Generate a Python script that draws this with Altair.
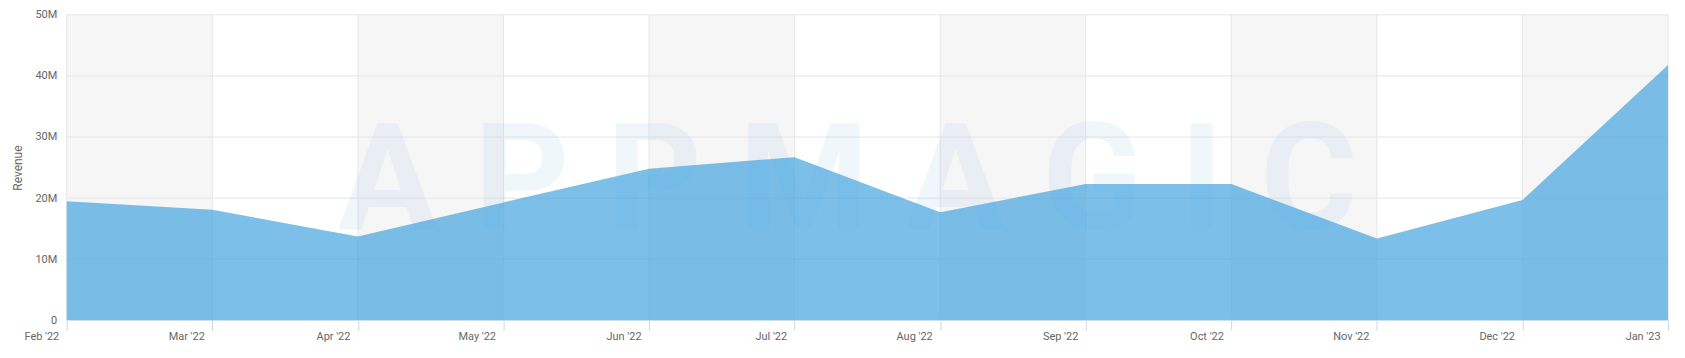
import json
import altair as alt
import pandas as pd

# ---- data ----
months = ["Feb '22", "Mar '22", "Apr '22", "May '22", "Jun '22", "Jul '22",
          "Aug '22", "Sep '22", "Oct '22", "Nov '22", "Dec '22", "Jan '23"]
revenue_m = [19.5, 18.1, 13.7, 19.3, 24.8, 26.7, 17.7, 22.3, 22.3, 13.4, 19.7, 41.8]
y_ticks = [0, 10, 20, 30, 40, 50]
watermark = "A P P M A G I C"

W, H = 1609, 307
idx = list(range(len(months)))
df = pd.DataFrame({"i": idx, "month": months, "revenue": revenue_m})
bands = pd.DataFrame({"start": idx[0:-1:2], "end": idx[1::2]})
ygrid = pd.DataFrame({"v": y_ticks})
wm = pd.DataFrame({"t": [watermark]})

FONT = "Roboto"
xs = alt.Scale(domain=[idx[0], idx[-1]], nice=False, zero=False)
ys = alt.Scale(domain=[y_ticks[0], y_ticks[-1]], nice=False)

xaxis = alt.Axis(values=idx, labelExpr=json.dumps(months) + "[datum.value]",
                 grid=False, domain=False, tickColor="#ccd6eb", tickSize=10,
                 labelAlign="right", labelOffset=-8, labelPadding=0,
                 labelColor="#666666", labelFontSize=11, labelFont=FONT,
                 labelFlush=False, labelOverlap=False, title=None)
yaxis = alt.Axis(values=y_ticks,
                 labelExpr="datum.value == 0 ? '0' : datum.value + 'M'",
                 grid=False, domain=False, ticks=False, labelPadding=10,
                 labelColor="#666666", labelFontSize=11, labelFont=FONT,
                 title="Revenue", titleFont=FONT, titleFontSize=12,
                 titleFontWeight="normal", titleColor="#666666", titlePadding=10)

band_layer = alt.Chart(bands).mark_rect(color="#f6f6f6").encode(
    x=alt.X("start:Q", scale=xs, axis=xaxis),
    x2="end:Q",
)

vgrid = alt.Chart(df).mark_rule(color="#e6e6e6", strokeWidth=1).encode(
    x=alt.X("i:Q", scale=xs, axis=xaxis)
)
hgrid = alt.Chart(ygrid).mark_rule(color="#e6e6e6", strokeWidth=1).encode(
    y=alt.Y("v:Q", scale=ys, axis=yaxis)
)

wm_layer = alt.Chart(wm).mark_text(
    font=FONT, fontWeight="bold", fontSize=149, color="#4a9ad8", opacity=0.075,
    align="center", baseline="alphabetic", dx=-20
).encode(text="t:N", x=alt.value(W / 2), y=alt.value(215))

area = alt.Chart(df).mark_area(color="#44a5e1", opacity=0.7).encode(
    x=alt.X("i:Q", scale=xs, axis=xaxis),
    y=alt.Y("revenue:Q", scale=ys, axis=yaxis),
)

chart = alt.layer(band_layer, vgrid, hgrid, wm_layer, area).properties(
    width=W, height=H,
    autosize=alt.AutoSizeParams(type="none"),
    padding={"left": 59, "top": 6, "right": 9, "bottom": 30},
    background="white",
).configure_view(stroke=None)

chart.save("out.html", embed_options={"renderer": "svg", "actions": False})
